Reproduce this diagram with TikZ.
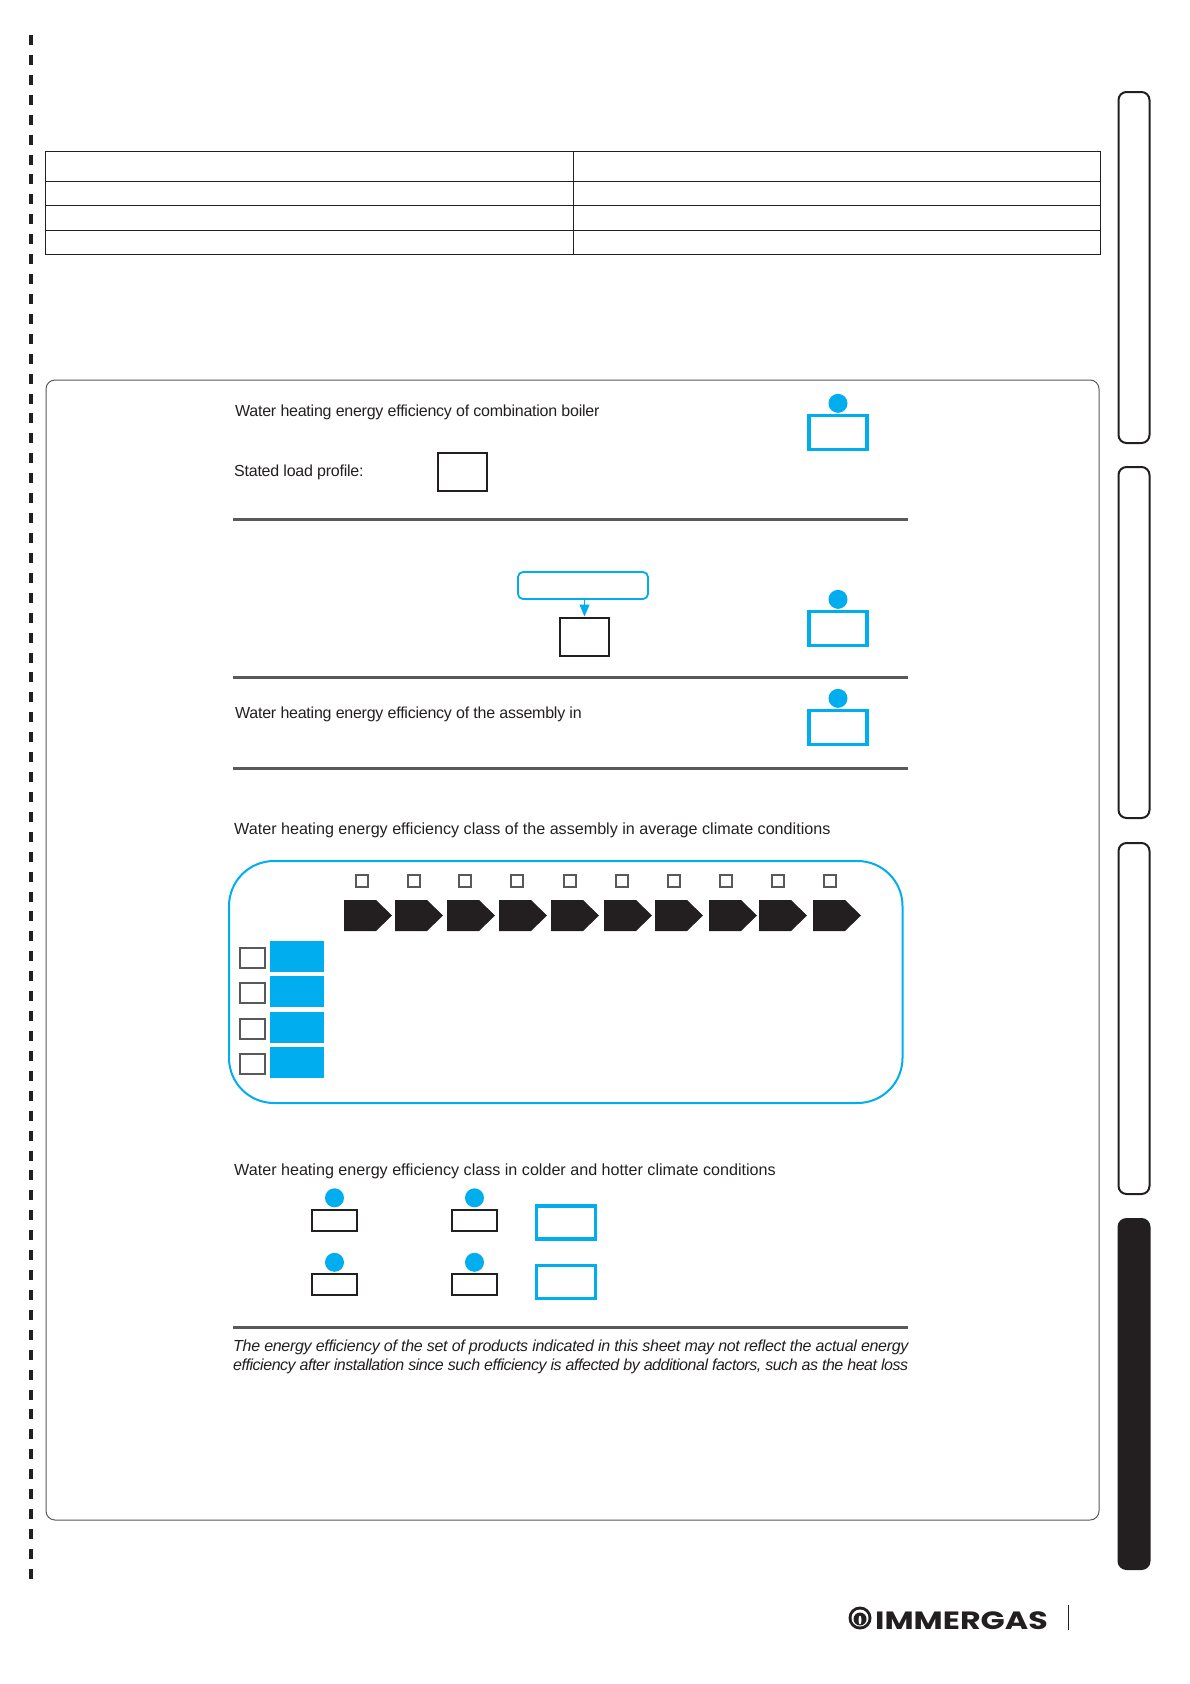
\documentclass[tikz,border=0pt]{standalone}
\usepackage{fontspec}
\setmainfont{Liberation Sans}
\newfontfamily\logofont[FakeStretch=1.27]{Poppins}
\usepackage{xcolor}
\usetikzlibrary{arrows.meta, shapes, positioning}
\definecolor{ink}{HTML}{231F20}
\definecolor{sky}{HTML}{00AEEF}
\definecolor{rulegray}{HTML}{58595B}
\begin{document}
\begin{tikzpicture}[
        x=1pt, y=-1pt,
        line/.style={anchor=west, inner sep=0pt, text=ink, font=\fontsize{16}{19}\selectfont\addfontfeature{LetterSpace=-1.5}},
        longline/.style={anchor=west, inner sep=0pt, text=ink, font=\fontsize{16.13}{19}\selectfont},
        note/.style={anchor=west, inner sep=0pt, text=ink, font=\fontsize{16}{19}\selectfont\itshape\addfontfeature{LetterSpace=#1}},
        tab/.style={rectangle, draw=ink, line width=2pt, rounded corners=8pt, minimum width=31pt, inner sep=0pt},
        badge/.style={rectangle, draw=sky, line width=3.4pt, minimum width=58pt, minimum height=33.5pt, inner sep=0pt},
        smallbox/.style={rectangle, draw=ink, line width=2pt, minimum width=45.5pt, minimum height=21pt, inner sep=0pt},
        cell/.style={rectangle, draw=ink, line width=2pt, inner sep=0pt},
        dot/.style={circle, fill=sky, minimum size=19pt, inner sep=0pt},
        tick/.style={rectangle, draw=rulegray, line width=2pt, minimum size=12.5pt, inner sep=0pt},
        wide/.style={rectangle, draw=rulegray, line width=2pt, minimum width=25pt, minimum height=20pt, inner sep=0pt},
        band/.style={rectangle, fill=sky, minimum width=54pt, minimum height=31pt, inner sep=0pt},
        divider/.style={draw=rulegray, line width=3pt},
        arrow/.style={draw=sky, line width=1pt, -{Triangle[length=12pt, width=10pt]}}
    ]
        \useasboundingbox (0,0) rectangle (1190,1684);

        \draw [ink, line width=4.2pt, dash pattern=on 10pt off 9.92pt] (31.3,35) -- (31.3,1579);

        \draw [ink, line width=1pt] (45.5,151) rectangle (1100,254);
        \draw [ink, line width=1pt] (45.5,181) -- (1100,181);
        \draw [ink, line width=1pt] (45.5,205) -- (1100,205);
        \draw [ink, line width=1pt] (45.5,230) -- (1100,230);
        \draw [ink, line width=1pt] (573.5,151) -- (573.5,254);

        \node (tab1) [tab, minimum height=351pt] at (1134,267.5) {};
        \node (tab2) [tab, minimum height=351pt] at (1134,642.5) {};
        \node (tab3) [tab, minimum height=351pt] at (1134,1018.5) {};
        \node (tab4) [tab, minimum height=350pt, fill=ink] at (1134,1394) {};

        \draw [rulegray, line width=1pt, rounded corners=9pt] (46,380) rectangle (1099,1520);

        \node (t1) [line] at (235,412) {Water heating energy efficiency of combination boiler};
        \node (t2) [line] at (234,472) {Stated load profile:};
        \node (profile) [cell, minimum width=49pt, minimum height=38pt] at (462,471.5) {};
        \node (b1) [badge] at (838,432.5) {};
        \node (d1) [dot, above=1pt of b1] {};
        \draw [divider] (233,519) -- (908,519);

        \node (flow) [rectangle, draw=sky, line width=1.8pt, rounded corners=5pt, minimum width=130pt, minimum height=27pt, inner sep=0pt] at (583,585.5) {};
        \node (square) [cell, minimum width=49pt, minimum height=38pt] at (584.5,636.5) {};
        \draw [arrow] (flow.south -| square.north) -- (square.north);
        \node (b2) [badge] at (838,628.5) {};
        \node (d2) [dot, above=1pt of b2] {};
        \draw [divider] (233,677) -- (908,677);

        \node (t3) [line] at (235,714) {Water heating energy efficiency of the assembly in};
        \node (b3) [badge] at (838,727.5) {};
        \node (d3) [dot, above=1pt of b3] {};
        \draw [divider] (233,768) -- (908,768);

        \node (t4) [longline] at (234,830) {Water heating energy efficiency class of the assembly in average climate conditions};
        \draw [sky, line width=2pt, rounded corners=45pt] (229,861) rectangle (902.5,1103);
        \foreach \x in {362,414,465,517,570,622,674,726,778,830}
            \node (q\x) [tick] at (\x,881) {};
        \foreach \x in {344,395,447,499,551,604,655,709,759,813}
            \fill [ink] (\x,900) -- (\x+32,900) -- (\x+48,915.5) -- (\x+32,931) -- (\x,931) -- cycle;
        \node (c1) [wide] at (252.5,957.5) {};
        \node (c2) [wide] at (252.5,993) {};
        \node (c3) [wide] at (252.5,1028.5) {};
        \node (c4) [wide] at (252.5,1064) {};
        \node (k1) [band] at (297,956.5) {};
        \node (k2) [band] at (297,991.5) {};
        \node (k3) [band] at (297,1027.5) {};
        \node (k4) [band] at (297,1062.5) {};

        \node (t5) [longline] at (234,1171) {Water heating energy efficiency class in colder and hotter climate conditions};
        \node (s1) [smallbox] at (334.5,1220) {};
        \node (s2) [smallbox] at (474.5,1220) {};
        \node (s3) [smallbox] at (334.5,1284.5) {};
        \node (s4) [smallbox] at (474.5,1284.5) {};
        \node (e1) [dot, above=1pt of s1] {};
        \node (e2) [dot, above=1pt of s2] {};
        \node (e3) [dot, above=1pt of s3] {};
        \node (e4) [dot, above=1pt of s4] {};
        \node (b4) [badge, minimum width=59pt, minimum height=33pt] at (565.75,1222.5) {};
        \node (b5) [badge, minimum width=59pt, minimum height=33pt] at (565.75,1282) {};
        \draw [divider] (233,1327.5) -- (908,1327.5);

        \node (n1) [note=-1.9] at (233,1347) {The energy efficiency of the set of products indicated in this sheet may not reflect the actual energy};
        \node (n2) [note=-2.9] at (233,1366) {efficiency after installation since such efficiency is affected by additional factors, such as the heat loss};

        \node (ring) [circle, fill=ink, minimum size=23pt, inner sep=0pt] at (860,1618) {};
        \node (arch) [circle, fill=white, minimum size=17pt, inner sep=0pt] at (860,1618) {};
        \node (core) [circle, fill=ink, minimum size=13pt, inner sep=0pt] at (860,1619) {};
        \node (flame) [ellipse, fill=white, minimum width=3pt, minimum height=9pt, inner sep=0pt] at (860,1620) {};
        \node (brand) [anchor=west, inner sep=0pt, text=ink, font=\logofont\bfseries\fontsize{25}{25}\selectfont] at (875,1620.5) {IMMERGAS};
        \draw [ink, line width=1pt] (1068,1605) -- (1068,1630);
    \end{tikzpicture}
\end{document}
